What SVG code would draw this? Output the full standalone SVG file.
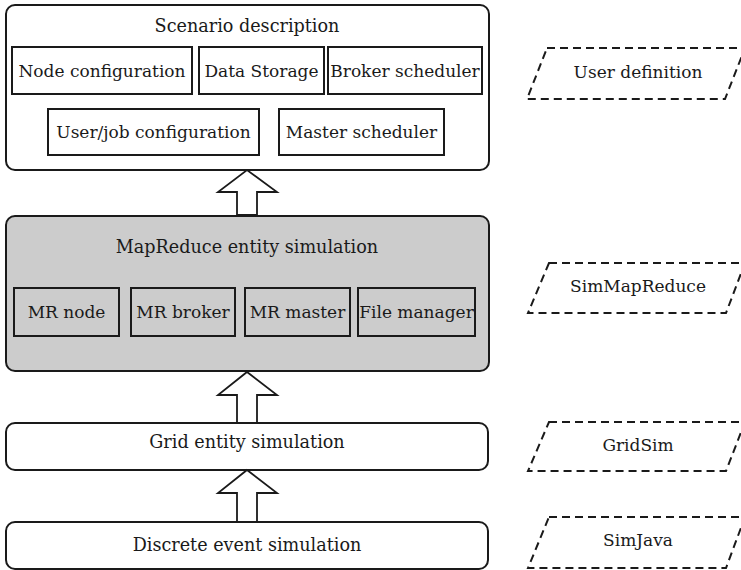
<svg xmlns="http://www.w3.org/2000/svg" width="741" height="570" viewBox="0 0 741 570">
<style>
text{font-family:"DejaVu Serif","Liberation Serif","Noto Serif",serif;font-size:17px;fill:#1a1a1a;text-anchor:middle}
.title{font-size:17.6px}
.outer{fill:#fff;stroke:#1a1a1a;stroke-width:2}
.grey{fill:#cccccc}
.inner{fill:none;stroke:#1a1a1a;stroke-width:2}
.para{fill:#fff;stroke:#1a1a1a;stroke-width:2;stroke-dasharray:8 5}
.arrow{fill:#fff;stroke:#1a1a1a;stroke-width:1.8;stroke-linejoin:miter}
</style>
<rect width="741" height="570" fill="#fff"/>
<g id="scenario">
<rect class="outer" x="6" y="5" width="483" height="165" rx="9"/>
<text class="title" x="247" y="32">Scenario description</text>
<rect class="inner" x="12" y="47" width="180" height="47"/>
<text x="102" y="77">Node configuration</text>
<rect class="inner" x="199" y="47" width="125" height="47"/>
<text x="261.5" y="77">Data Storage</text>
<rect class="inner" x="328" y="47" width="154" height="47"/>
<text x="405" y="77">Broker scheduler</text>
<rect class="inner" x="48" y="109" width="211" height="46"/>
<text x="153.5" y="138">User/job configuration</text>
<rect class="inner" x="279" y="109" width="165" height="46"/>
<text x="361.5" y="138">Master scheduler</text>
</g>
<g id="mapreduce">
<rect class="outer grey" x="6" y="216" width="483" height="155" rx="9"/>
<text class="title" x="247" y="253">MapReduce entity simulation</text>
<rect class="inner" x="14" y="288" width="105" height="48"/>
<text x="66.5" y="318">MR node</text>
<rect class="inner" x="131" y="288" width="104" height="48"/>
<text x="183" y="318">MR broker</text>
<rect class="inner" x="245" y="288" width="105" height="48"/>
<text x="297.5" y="318">MR master</text>
<rect class="inner" x="358" y="288" width="117" height="48"/>
<text x="416.5" y="318">File manager</text>
</g>
<g id="grid">
<rect class="outer" x="6" y="423" width="482" height="47" rx="9"/>
<text class="title" x="247" y="448">Grid entity simulation</text>
</g>
<g id="discrete">
<rect class="outer" x="6" y="522" width="482" height="47" rx="9"/>
<text class="title" x="247" y="551">Discrete event simulation</text>
</g>
<g id="userdef">
<polygon class="para" points="547,48 745,48 725,99 527,99"/>
<text x="638" y="78">User definition</text>
</g>
<g id="simmapreduce">
<polygon class="para grey" points="549,263 745,263 726,313 528,313"/>
<text x="638" y="292">SimMapReduce</text>
</g>
<g id="gridsim">
<polygon class="para" points="549,422 745,422 726,471 528,471"/>
<text x="638" y="451">GridSim</text>
</g>
<g id="simjava">
<polygon class="para" points="549,517 745,517 726,568 528,568"/>
<text x="638" y="546">SimJava</text>
</g>
<g id="connectors">
<polygon class="arrow" points="237,215 237,192 218,192 247,170 277,192 257,192 257,215"/>
<polygon class="arrow" points="237,423 237,395 218,395 247,372 277,395 257,395 257,423"/>
<polygon class="arrow" points="237,522 237,493 218,493 247,470 277,493 257,493 257,522"/>
</g>
</svg>
